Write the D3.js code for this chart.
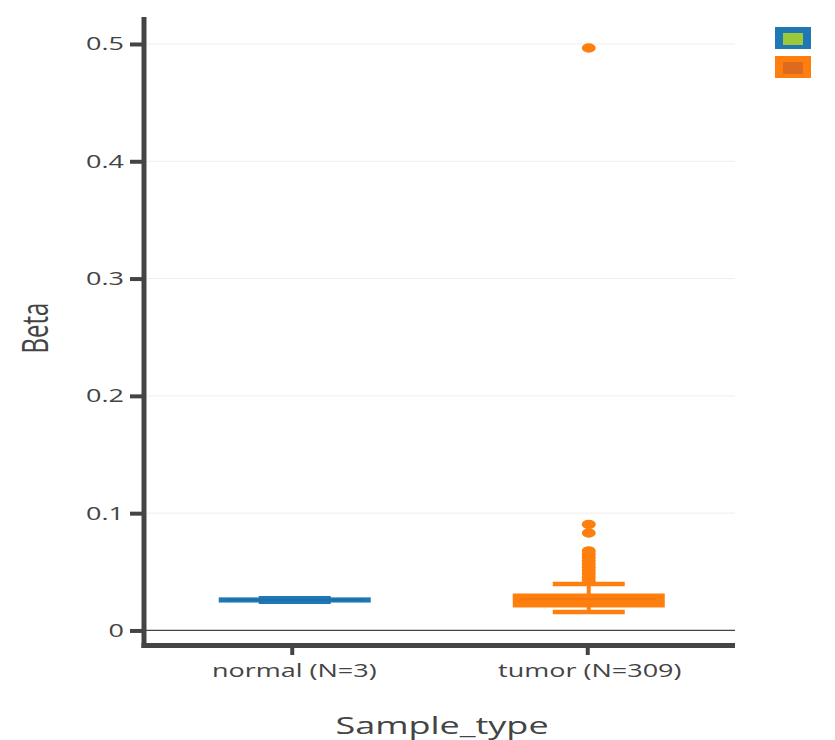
<!DOCTYPE html>
<html>
<head>
<meta charset="utf-8">
<script src="https://cdn.jsdelivr.net/npm/d3@7"></script>
<style>
  html, body { margin: 0; padding: 0; background: #fff; }
  text { font-family: "Open Sans", sans-serif; }
</style>
</head>
<body>
<div id="chart"></div>
<script>
// ---- data ----
const categories = ["normal (N=3)", "tumor (N=309)"];
const colors = ["#1f77b4", "#ff7f0e"];
const legendFill = ["#9bc93a", "#dc6a1f"];
const q1 = [0.0255, 0.0213];
const median = [0.0260, 0.0268];
const q3 = [0.0265, 0.0298];
const lowerFence = [0.0245, 0.0158];
const upperFence = [0.0275, 0.0396];
const outliersNormal = [];
const outliersTumor = [0.4966, 0.0904, 0.0831, 0.0678, 0.0650, 0.0622, 0.0594, 0.0566, 0.0538, 0.0510, 0.0482, 0.0454, 0.0426];
const yTicks = [0, 0.1, 0.2, 0.3, 0.4, 0.5];
const yTickLabels = ["0", "0.1", "0.2", "0.3", "0.4", "0.5"];
const xTitle = "Sample_type";
const yTitle = "Beta";

// ---- layout ----
const W = 835, H = 740;
const SX = 1.5; // horizontal stretch of the reference picture
const mLeft = 144, mRight = 735, mTop = 17, mBottom = 645;

const svg = d3.select("#chart").append("svg").attr("width", W).attr("height", H);

const y = d3.scaleLinear().domain([-0.0124, 0.523]).range([mBottom, mTop]);
const x = d3.scalePoint().domain(categories).range([mLeft, mRight]).padding(0.5);

// grid
svg.append("g").selectAll("line").data(yTicks.filter(d => d !== 0)).join("line")
  .attr("x1", mLeft + 3).attr("x2", mRight)
  .attr("y1", d => y(d)).attr("y2", d => y(d))
  .attr("stroke", "#eeeeee").attr("stroke-width", 1);

// zero line
svg.append("line").attr("x1", mLeft).attr("x2", mRight)
  .attr("y1", y(0)).attr("y2", y(0))
  .attr("stroke", "#444").attr("stroke-width", 1.3);

// y axis
const yAxis = d3.axisLeft(y).tickValues(yTicks).tickFormat((d, i) => yTickLabels[i]).tickSize(14).tickSizeOuter(0);
const gy = svg.append("g").attr("transform", `translate(${mLeft},0)`).call(yAxis);
gy.select(".domain").remove();
gy.selectAll(".tick line").attr("stroke", "#444").attr("stroke-width", 4);
gy.selectAll(".tick text")
  .attr("x", null).attr("dy", null)
  .attr("transform", "translate(-20,6) scale(" + SX + ",1)")
  .attr("text-anchor", "end")
  .attr("fill", "#444").style("font-size", "18px");

// x axis
const xAxis = d3.axisBottom(x).tickSize(8).tickSizeOuter(0);
const gx = svg.append("g").attr("transform", `translate(0,${mBottom + 2})`).call(xAxis);
gx.select(".domain").remove();
gx.selectAll(".tick line").attr("stroke", "#444").attr("stroke-width", 4);
gx.selectAll(".tick text")
  .attr("y", null).attr("dy", null)
  .attr("transform", "translate(2,30) scale(" + SX + ",1)")
  .attr("text-anchor", "middle")
  .attr("fill", "#444").style("font-size", "18px");

// axis lines
svg.append("line").attr("x1", mLeft).attr("x2", mLeft).attr("y1", mTop).attr("y2", mBottom + 3)
  .attr("stroke", "#444").attr("stroke-width", 5);
svg.append("line").attr("x1", mLeft - 2.5).attr("x2", mRight).attr("y1", mBottom + 0.5).attr("y2", mBottom + 0.5)
  .attr("stroke", "#444").attr("stroke-width", 5);

// boxes
const boxW = 148, capW = 72;
const offsets = [3, 1.5];
categories.forEach((c, i) => {
  const cx = x(c) + offsets[i];
  const g = svg.append("g");
  const col = colors[i];
  // whisker stems
  g.append("line").attr("x1", cx).attr("x2", cx).attr("y1", y(upperFence[i])).attr("y2", y(q3[i]))
    .attr("stroke", col).attr("stroke-width", 4);
  g.append("line").attr("x1", cx).attr("x2", cx).attr("y1", y(q1[i])).attr("y2", y(lowerFence[i]))
    .attr("stroke", col).attr("stroke-width", 4);
  // caps
  [upperFence[i], lowerFence[i]].forEach(v => {
    g.append("line").attr("x1", cx - capW / 2).attr("x2", cx + capW / 2)
      .attr("y1", y(v)).attr("y2", y(v)).attr("stroke", col).attr("stroke-width", 4.5);
  });
  // box
  g.append("rect").attr("x", cx - boxW / 2).attr("width", boxW)
    .attr("y", y(q3[i])).attr("height", Math.max(0.5, y(q1[i]) - y(q3[i])))
    .attr("fill", col).attr("stroke", col).attr("stroke-width", 4);
  // median
  g.append("line").attr("x1", cx - boxW / 2 + 6).attr("x2", cx + boxW / 2 - 6)
    .attr("y1", y(median[i])).attr("y2", y(median[i]))
    .attr("stroke", i === 1 ? "#e8700c" : "#1a6aa3").attr("stroke-width", 1);
  // outliers
  const outs = i === 0 ? outliersNormal : outliersTumor;
  g.selectAll("ellipse").data(outs).join("ellipse")
    .attr("cx", cx).attr("cy", d => y(d))
    .attr("rx", 7).attr("ry", 4.7)
    .attr("fill", col);
});

// axis titles
svg.append("text")
  .attr("transform", `translate(442,734) scale(${SX},1)`)
  .attr("text-anchor", "middle")
  .attr("fill", "#444").style("font-size", "24px")
  .text(xTitle);
svg.append("text")
  .attr("transform", `translate(48,328) scale(${SX},1) rotate(-90)`)
  .attr("text-anchor", "middle")
  .attr("fill", "#444").style("font-size", "24px")
  .text(yTitle);

// legend
const legend = svg.append("g");
categories.forEach((c, i) => {
  const ly = 27 + i * 29;
  legend.append("rect").attr("x", 775).attr("y", ly).attr("width", 36).attr("height", 22)
    .attr("fill", colors[i]);
  legend.append("rect").attr("x", 783).attr("y", ly + 6).attr("width", 20).attr("height", 12)
    .attr("fill", legendFill[i]);
});
</script>
</body>
</html>
